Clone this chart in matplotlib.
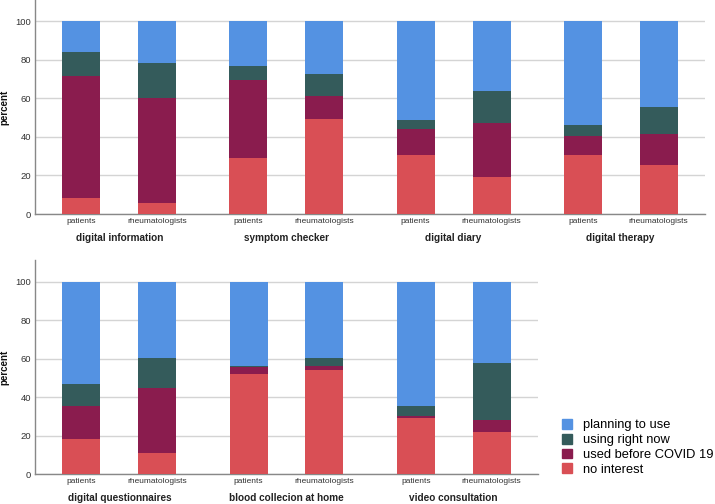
import numpy as np
import matplotlib
matplotlib.use("Agg")
import matplotlib.pyplot as plt
from matplotlib.patches import Patch
import matplotlib.transforms as mtransforms

plt.rcParams["font.family"] = ["Liberation Sans", "DejaVu Sans"]

# ----------------------------------------------------------------------
# data (percent)
# ----------------------------------------------------------------------
groups_top = ["digital information", "symptom checker", "digital diary", "digital therapy"]
groups_bottom = ["digital questionnaires", "blood collecion at home", "video consultation"]
respondents = ["patients", "rheumatologists"]
series = ["no interest", "used before COVID 19", "using right now", "planning to use"]

# one value per bar: patients, rheumatologists for each group in order
no_interest_top = [8.3, 5.5, 29.0, 49.4, 30.7, 19.3, 30.6, 25.6]
used_before_top = [63.5, 54.8, 40.6, 11.9, 13.3, 27.9, 9.8, 15.7]
using_now_top = [12.3, 17.8, 7.4, 11.2, 4.5, 16.5, 5.7, 14.3]

no_interest_bottom = [18.5, 11.1, 52.1, 54.2, 29.1, 22.0]
used_before_bottom = [17.1, 33.5, 3.6, 2.2, 1.2, 6.2]
using_now_bottom = [11.3, 15.6, 0.7, 4.0, 5.3, 29.6]

colors = {
    "no interest": "#D94F55",
    "used before COVID 19": "#8A1C4E",
    "using right now": "#345B5B",
    "planning to use": "#5492E2",
}

W, H = 715, 504


def draw_panel(ax, groups, no_int, used, using):
    no_int = np.array(no_int)
    used = np.array(used)
    using = np.array(using)
    planning = 100 - no_int - used - using

    n = len(groups)
    x = np.array([g * 2.2 + k for g in range(n) for k in range(2)])
    bottom = np.zeros(len(x))
    for name, vals in zip(series, [no_int, used, using, planning]):
        ax.bar(x, vals, width=0.5, bottom=bottom, color=colors[name], zorder=3)
        bottom += vals

    ax.set_xlim(-0.61, x[-1] + 0.61)
    ax.set_ylim(0, 111)
    ax.set_yticks([0, 20, 40, 60, 80, 100])
    ax.yaxis.grid(True, color="#d4d4d4", linewidth=1, zorder=0)
    ax.set_axisbelow(True)
    ax.set_xticks(x)
    ax.set_xticklabels(respondents * n, fontsize=6.0, color="#333333")
    ax.tick_params(axis="both", length=0, pad=3)
    ax.tick_params(axis="y", labelsize=6.8, colors="#333333")
    for side in ["top", "right"]:
        ax.spines[side].set_visible(False)
    for side in ["left", "bottom"]:
        ax.spines[side].set_color("#888888")
        ax.spines[side].set_linewidth(1)

    # y label placed near the left edge of the figure
    pos = ax.get_position()
    fig.text(4.5 / W, (pos.y0 + pos.y1) / 2, "percent", rotation=90,
             ha="center", va="center", fontsize=7, fontweight="bold",
             color="#111111")

    trans = mtransforms.blended_transform_factory(ax.transData, ax.transAxes)
    for g, name in enumerate(groups):
        ax.text(g * 2.2 + 0.5, -0.112, name, transform=trans, ha="center",
                va="center", fontsize=7.2, fontweight="bold", color="#222222")


fig = plt.figure(figsize=(7.15, 5.04), dpi=100)

ax1 = fig.add_axes([35 / W, 1 - 214 / H, 670 / W, 214 / H])
draw_panel(ax1, groups_top, no_interest_top, used_before_top, using_now_top)

ax2 = fig.add_axes([35 / W, 1 - 474.3 / H, 503 / W, 214 / H])
draw_panel(ax2, groups_bottom, no_interest_bottom, used_before_bottom, using_now_bottom)

handles = [Patch(color=colors[s]) for s in reversed(series)]
fig.legend(handles, list(reversed(series)), loc="upper left",
           bbox_to_anchor=(562 / W, 1 - 419 / H), frameon=False,
           fontsize=9.3, handlelength=0.8, handleheight=0.8,
           handletextpad=0.85, labelspacing=0.18, borderpad=0,
           borderaxespad=0)

fig.savefig("out.png", dpi=100)
